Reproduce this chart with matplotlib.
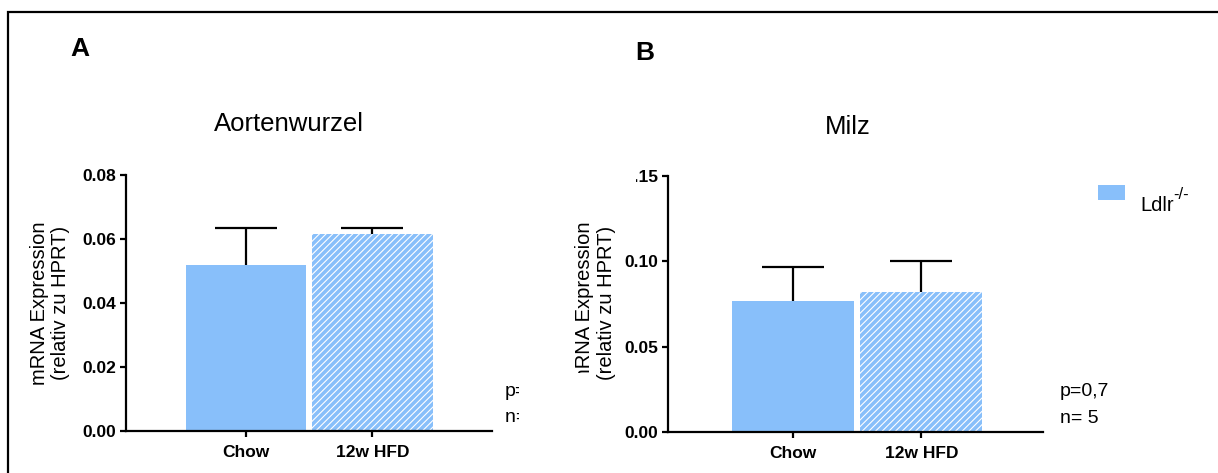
import matplotlib
matplotlib.use('Agg')
import matplotlib.pyplot as plt
from matplotlib.patches import Rectangle
from matplotlib.transforms import Bbox

plt.rcParams['font.family'] = ['Liberation Sans', 'DejaVu Sans']
plt.rcParams['hatch.linewidth'] = 0.8

W, H = 1218, 473

groups = ['Chow', '12w HFD']
aorta_mean = [0.0519, 0.0616]
aorta_err = [0.0115, 0.0018]
milz_mean = [0.0768, 0.0820]
milz_err = [0.0199, 0.0182]

aorta_ticks = [0.00, 0.02, 0.04, 0.06, 0.08]
milz_ticks = [0.00, 0.05, 0.10, 0.15]

blue = '#88bffa'


def fx(x):
    return x / W


def fy(y):
    return 1 - y / H


fig = plt.figure(figsize=(W / 100, H / 100), dpi=100)

# outer frame (only top and left edge are inside the picture)
fig.add_artist(Rectangle((fx(8), -0.1), 1.2, fy(12) + 0.1, fill=False,
                         edgecolor='black', linewidth=1.6, transform=fig.transFigure))

axA = fig.add_axes([fx(126), fy(431), (492 - 126) / W, (431 - 175) / H])
axB = fig.add_axes([fx(668), fy(432), (1043 - 668) / W, (432 - 176) / H])


def draw_panel(ax, means, errs, ticks, xlim):
    x = [0, 1]
    bars = ax.bar(x, means, width=0.95, color=blue, linewidth=0)
    bars[1].set_hatch('/////')
    bars[1].set_edgecolor('white')
    eb = ax.errorbar(x, means, yerr=[[0, 0], errs], fmt='none', ecolor='black',
                     elinewidth=1.6, capsize=22, capthick=1.6)
    # only the upper cap, like the original
    eb[1][0].set_visible(False)
    ax.set_xlim(xlim)
    ax.set_ylim(ticks[0], ticks[-1])
    ax.set_yticks(ticks)
    ax.set_yticklabels(['%.2f' % t for t in ticks], fontweight='bold', fontsize=12.5)
    ax.set_xticks(x)
    ax.set_xticklabels(groups, fontweight='bold', fontsize=12.5)
    for s in ['top', 'right']:
        ax.spines[s].set_visible(False)
    for s in ['left', 'bottom']:
        ax.spines[s].set_linewidth(1.6)
    ax.tick_params(axis='y', direction='out', length=4, width=1.6, pad=3)
    ax.tick_params(axis='x', direction='out', length=4, width=1.6, pad=6)


draw_panel(axA, aorta_mean, aorta_err, aorta_ticks, (-0.949, 1.945))
draw_panel(axB, milz_mean, milz_err, milz_ticks, (-0.973, 1.946))

# "0.15" is cut on the left in the original
lab = axB.yaxis.get_major_ticks()[-1].label1
lab.set_clip_box(Bbox.from_extents(636, 0, W, H))
lab.set_clip_on(True)

# titles and panel letters
fig.text(fx(289), fy(124), 'Aortenwurzel', fontsize=18.5, ha='center', va='center')
fig.text(fx(848), fy(127), 'Milz', fontsize=18.5, ha='center', va='center')
fig.text(fx(70), fy(49), 'A', fontsize=19, fontweight='bold', va='center')
fig.text(fx(635), fy(53), 'B', fontsize=19, fontweight='bold', va='center')

# y labels
fig.text(fx(40), fy(303), 'mRNA Expression', fontsize=14.5, rotation=90,
         ha='center', va='center')
fig.text(fx(61), fy(303), '(relativ zu HPRT)', fontsize=14.5, rotation=90,
         ha='center', va='center')
t = fig.text(fx(585), fy(303), 'mRNA Expression', fontsize=14.5, rotation=90,
             ha='center', va='center')
t.set_clip_box(Bbox.from_extents(0, H - 373, W, H))
t.set_clip_on(True)
fig.text(fx(606), fy(303), '(relativ zu HPRT)', fontsize=14.5, rotation=90,
         ha='center', va='center')

# statistics
for txt, y in [('p=0,3', 392), ('n= 5', 417)]:
    t = fig.text(fx(505), fy(y), txt, fontsize=14, va='center')
    t.set_clip_box(Bbox.from_extents(0, 0, 519, H))
    t.set_clip_on(True)
fig.text(fx(1060), fy(392), 'p=0,7', fontsize=14, va='center')
fig.text(fx(1060), fy(418), 'n= 5', fontsize=14, va='center')

# legend
fig.add_artist(Rectangle((fx(1098), fy(200)), 27 / W, 15 / H, facecolor=blue,
                         linewidth=0, transform=fig.transFigure))
fig.text(fx(1140), fy(211), 'Ldlr', fontsize=14.5, va='baseline')
fig.text(fx(1173), fy(199), '-/-', fontsize=12, va='baseline')

fig.savefig('out.png', dpi=100)
